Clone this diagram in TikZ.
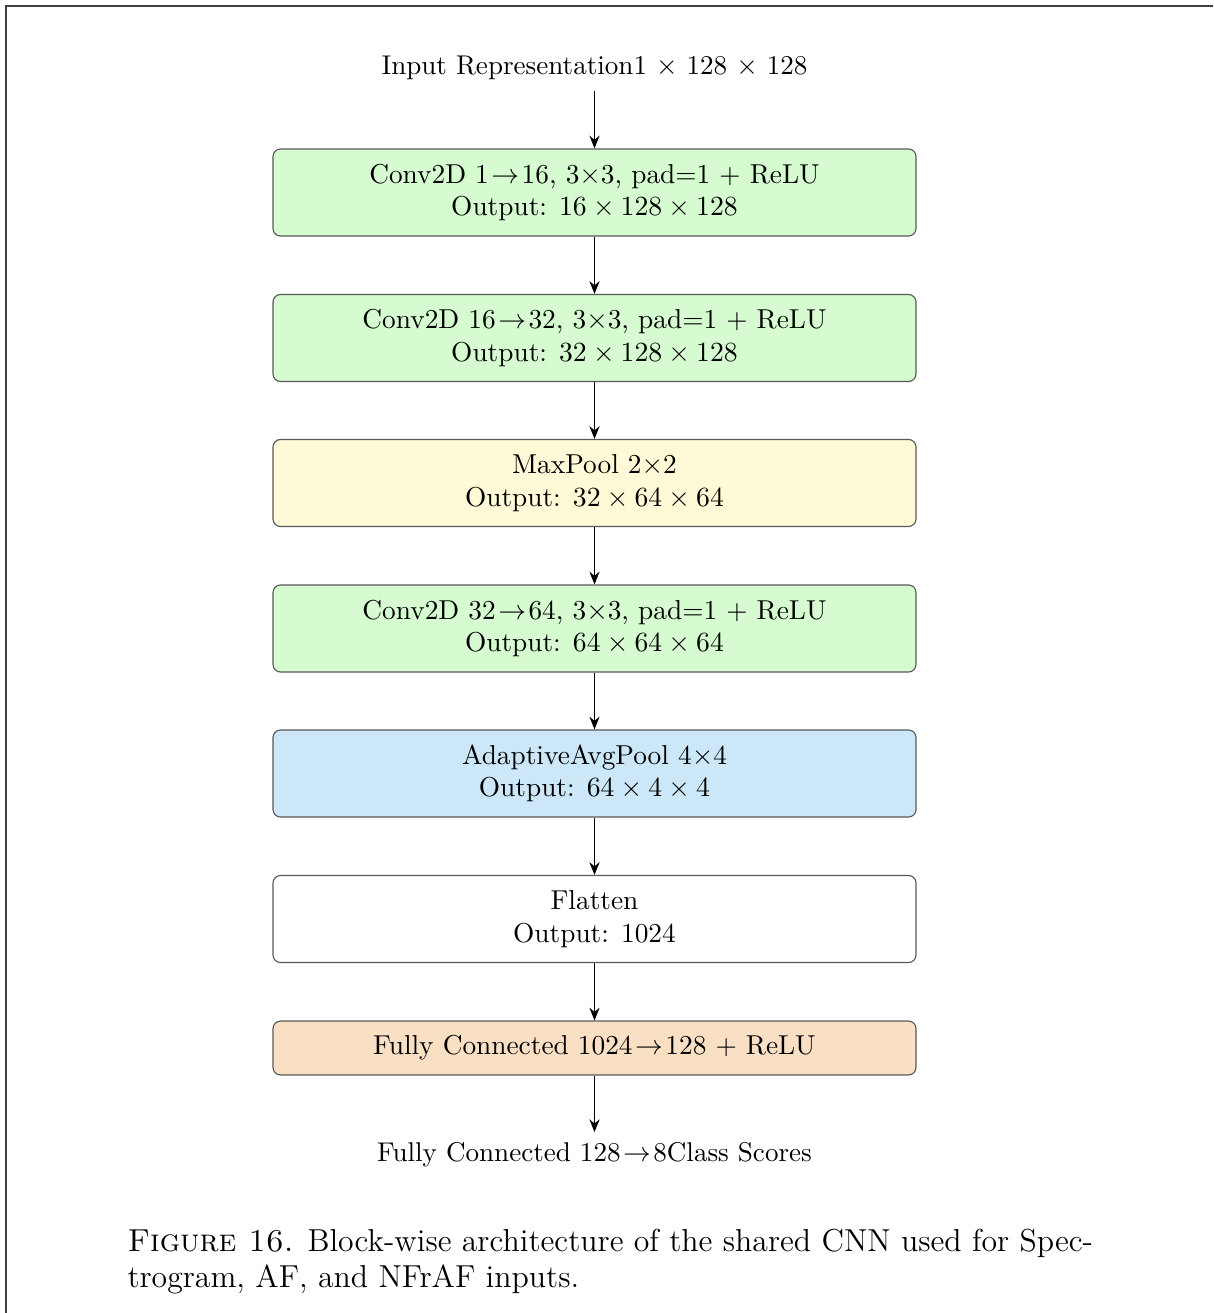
\documentclass[tikz,border=0pt]{standalone}
\usetikzlibrary{arrows.meta}
\definecolor{cgreen}{RGB}{214,251,209}
\definecolor{cyellow}{RGB}{254,249,214}
\definecolor{cblue}{RGB}{204,232,248}
\definecolor{corange}{RGB}{249,224,196}
\newcommand{\ar}{\kern1pt$\rightarrow$\kern1pt}
\begin{document}
\begin{tikzpicture}[x=0.395pt,y=-0.395pt,
  blk/.style={draw=black!65, line width=0.45pt, rounded corners=3pt, minimum width=254pt,
    align=center, inner sep=0pt, font=\fontsize{10.8}{12.8}\selectfont},
  tall/.style={minimum height=34.4pt},
  plain/.style={font=\fontsize{10.7}{12.8}\selectfont, inner sep=4pt},
  arr/.style={-{Stealth[length=5pt,width=4pt]}, line width=0.7pt},
  captxt/.style={anchor=base west, inner sep=0pt, font=\fontsize{12.55}{15}\selectfont}]
\useasboundingbox (0,0) rectangle (1213,1313);
\draw[black!75, line width=0.6pt] (6,1313) -- (6,6) -- (1213,6);

\node[plain] (in) at (594.5,68) {Input Representation1 $\times$ 128 $\times$ 128};
\node[blk, tall, fill=cgreen] (b1) at (594.5,192.5) {Conv2D 1\ar16, 3$\times$3, pad=1 + ReLU\\Output: $16\times128\times128$};
\node[blk, tall, fill=cgreen] (b2) at (594.5,338) {Conv2D 16\ar32, 3$\times$3, pad=1 + ReLU\\Output: $32\times128\times128$};
\node[blk, tall, fill=cyellow] (b3) at (594.5,483) {MaxPool 2$\times$2\\Output: $32\times64\times64$};
\node[blk, tall, fill=cgreen] (b4) at (594.5,628.5) {Conv2D 32\ar64, 3$\times$3, pad=1 + ReLU\\Output: $64\times64\times64$};
\node[blk, tall, fill=cblue] (b5) at (594.5,773.5) {AdaptiveAvgPool 4$\times$4\\Output: $64\times4\times4$};
\node[blk, tall, fill=white] (b6) at (594.5,919) {Flatten\\Output: 1024};
\node[blk, minimum height=21.3pt, fill=corange] (b7) at (594.5,1048) {Fully Connected 1024\ar128 + ReLU};
\node[plain] (out) at (594.5,1155) {Fully Connected 128\ar8Class Scores};

\draw[arr] (in) -- (b1);
\draw[arr] (b1) -- (b2);
\draw[arr] (b2) -- (b3);
\draw[arr] (b3) -- (b4);
\draw[arr] (b4) -- (b5);
\draw[arr] (b5) -- (b6);
\draw[arr] (b6) -- (b7);
\draw[arr] (b7) -- (out);

\node[captxt] (c1) at (127,1251) {\textsc{Figure 16.} Block-wise architecture of the shared CNN used for Spec-};
\node[captxt] (c2) at (127,1287) {trogram, AF, and NFrAF inputs.};
\end{tikzpicture}
\end{document}
